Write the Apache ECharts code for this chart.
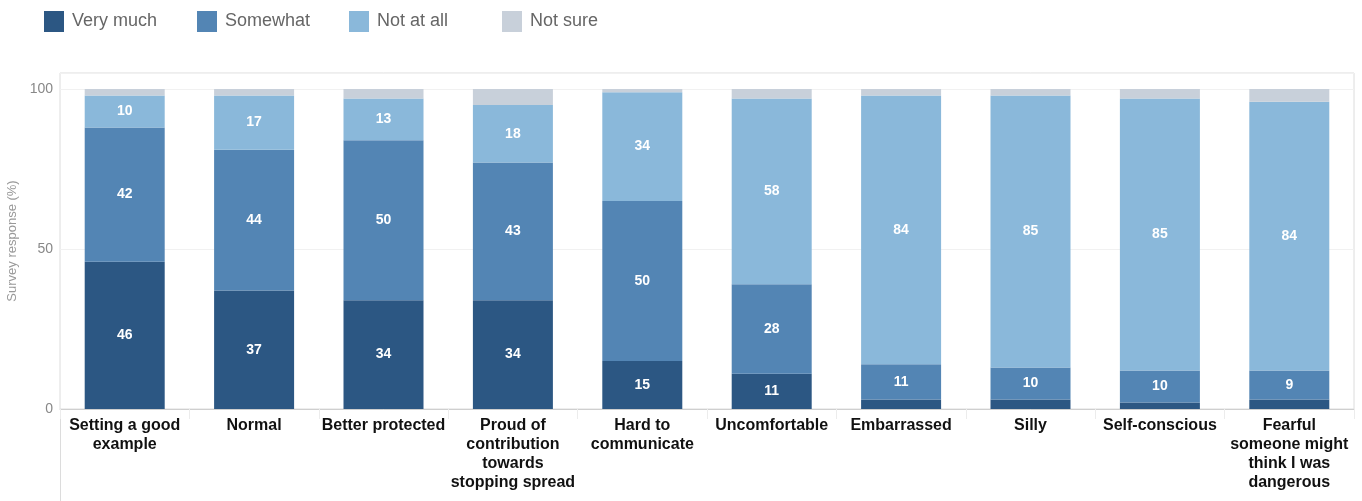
<!DOCTYPE html>
<html>
<head>
<meta charset="utf-8">
<script src="https://cdn.jsdelivr.net/npm/echarts@6/dist/echarts.min.js"></script>
<style>html,body{margin:0;padding:0;background:#fff}#c{width:1362px;height:501px}</style>
</head>
<body>
<div id="c"></div>
<script>
const categories = [
  "Setting a good\nexample",
  "Normal",
  "Better protected",
  "Proud of\ncontribution\ntowards\nstopping spread",
  "Hard to\ncommunicate",
  "Uncomfortable",
  "Embarrassed",
  "Silly",
  "Self-conscious",
  "Fearful\nsomeone might\nthink I was\ndangerous"
];
const seriesNames = ["Very much", "Somewhat", "Not at all", "Not sure"];
const veryMuch = [46, 37, 34, 34, 15, 11, 3, 3, 2, 3];
const somewhat = [42, 44, 50, 43, 50, 28, 11, 10, 10, 9];
const notAtAll = [10, 17, 13, 18, 34, 58, 84, 85, 85, 84];
const notSure  = [2, 2, 3, 5, 1, 3, 2, 2, 3, 4];
const yTicks = [0, 50, 100];

const colors = ["#2c5783", "#5385b4", "#8ab8da", "#c8d0da"];
const values = [veryMuch, somewhat, notAtAll, notSure];
const legendLefts = [44, 197, 349, 502];

const chart = echarts.init(document.getElementById('c'));
const FONT = '"Liberation Sans", Arial, sans-serif';

chart.setOption({
  animation: false,
  textStyle: { fontFamily: FONT },
  legend: seriesNames.map((n, i) => ({
    left: legendLefts[i], top: 11, padding: 0,
    itemWidth: 20, itemHeight: 21,
    icon: 'rect',
    data: [n],
    textStyle: { fontSize: 18, color: '#666', fontFamily: FONT, padding: [0, 0, 0, 3] }
  })),
  grid: {
    left: 60, right: 8, top: 73, bottom: 92,
    outerBoundsMode: 'none', containLabel: false,
    show: true, borderColor: '#dcdcdc', borderWidth: 1, backgroundColor: 'transparent'
  },
  xAxis: {
    type: 'category',
    data: categories,
    axisLine: { lineStyle: { color: '#cfcfcf', width: 1 } },
    axisTick: { show: true, length: 10, lineStyle: { color: '#ececec' } },
    axisLabel: {
      interval: 0, margin: 7, color: '#111', fontWeight: 'bold', fontSize: 16,
      lineHeight: 19, fontFamily: FONT
    }
  },
  yAxis: {
    type: 'value', min: 0, max: 105, interval: 50,
    name: 'Survey response (%)', nameLocation: 'middle', nameGap: 38,
    nameTextStyle: { color: '#999', fontSize: 13, fontFamily: FONT },
    axisLine: { show: false }, axisTick: { show: false },
    axisLabel: {
      color: '#888', fontSize: 14, margin: 7, fontFamily: FONT,
      formatter: v => (yTicks.indexOf(v) >= 0 ? String(v) : '')
    },
    splitLine: { lineStyle: { color: '#f1f1f1' } }
  },
  series: seriesNames.map((name, i) => ({
    name: name,
    type: 'bar',
    stack: 'total',
    barWidth: 80,
    data: values[i],
    itemStyle: { color: colors[i] },
    label: {
      show: i < 3,
      position: 'inside',
      color: '#fff', fontWeight: 'bold', fontSize: 14, fontFamily: FONT,
      formatter: p => (p.value >= 5 ? String(p.value) : '')
    }
  })),
  graphic: [{
    type: 'line',
    shape: { x1: 60.5, y1: 409, x2: 60.5, y2: 501 },
    style: { stroke: '#dcdcdc', lineWidth: 1 }
  }]
});
</script>
</body>
</html>
